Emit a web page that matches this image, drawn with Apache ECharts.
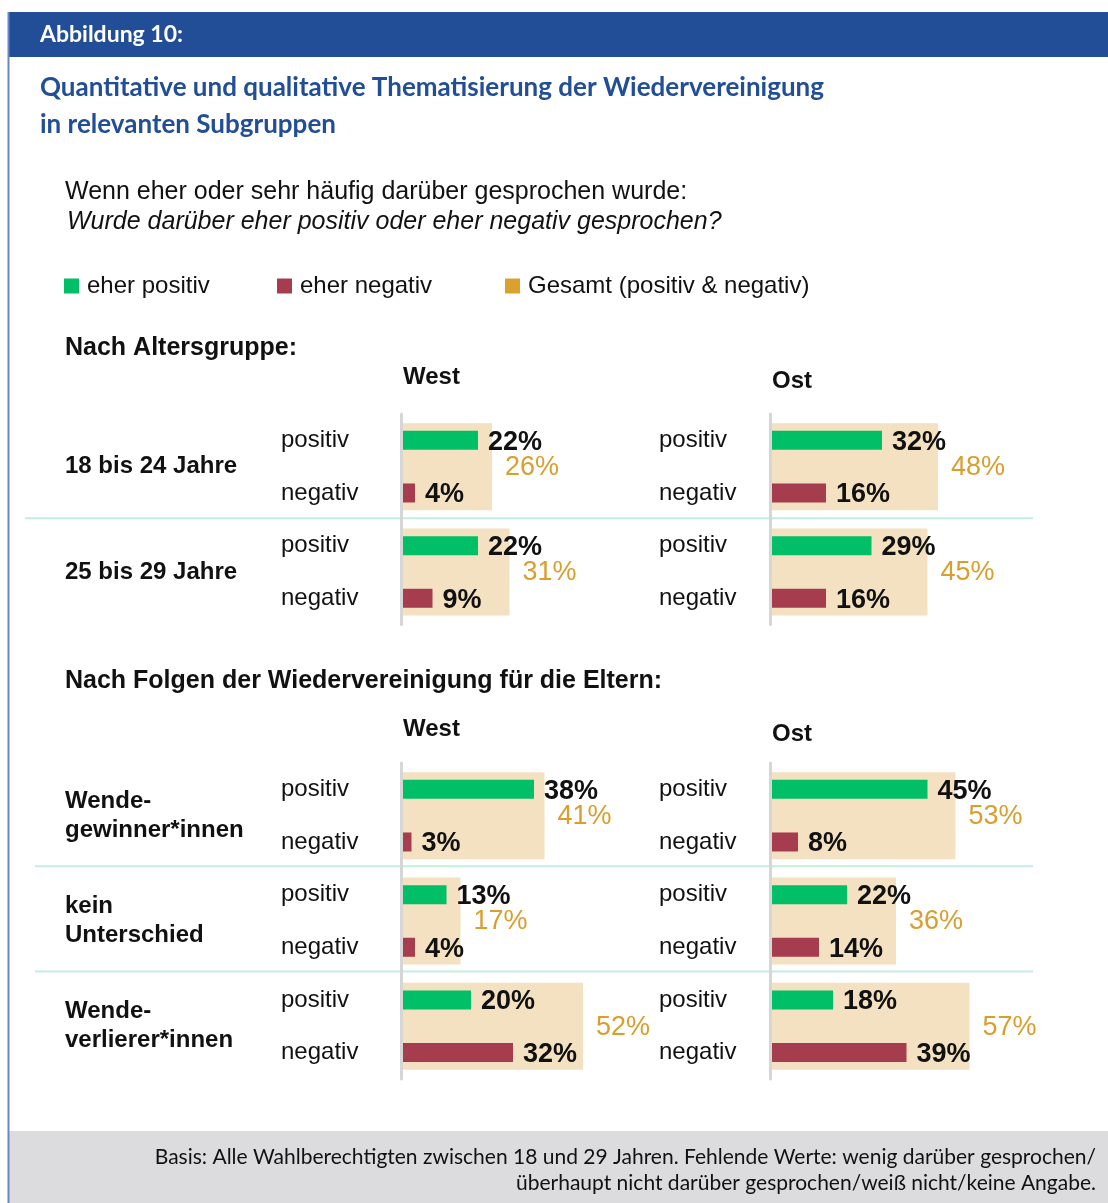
<!DOCTYPE html>
<html>
  <head>
    <meta charset="UTF-8" />
    <title>Abbildung 10</title>
    <script src="https://cdn.jsdelivr.net/npm/echarts@6/dist/echarts.min.js"></script>
    <style>
      body {
        padding: 0;
        margin: 0;
        background: #fff;
      }
      #main {
        width: 1108px;
        height: 1203px;
      }
    </style>
  </head>
  <body>
    <div id="main"></div>
    <script type="text/javascript">
      // Nach Altersgruppe
      var ageGroups = ["18 bis 24 Jahre", "25 bis 29 Jahre"];
      var westAgePos = [22, 22];
      var westAgeNeg = [4, 9];
      var westAgeTotal = [26, 31];
      var ostAgePos = [32, 29];
      var ostAgeNeg = [16, 16];
      var ostAgeTotal = [48, 45];

      // Nach Folgen der Wiedervereinigung fuer die Eltern
      var parentGroups = ["Wende-\ngewinner*innen", "kein\nUnterschied", "Wende-\nverlierer*innen"];
      var westParPos = [38, 13, 20];
      var westParNeg = [3, 4, 32];
      var westParTotal = [41, 17, 52];
      var ostParPos = [45, 22, 18];
      var ostParNeg = [8, 14, 39];
      var ostParTotal = [53, 36, 57];

      var subLabels = ["positiv", "negativ"];
      var legendNames = ["eher positiv", "eher negativ", "Gesamt (positiv & negativ)"];

      var GREEN = "#00bf66";
      var RED = "#a63d4e";
      var BEIGE = "#f3e1c1";
      var ORANGE = "#d99e2e";
      var BLUE = "#214e96";
      var FONT = "'Liberation Sans', Arial, sans-serif";
      var SERIF_LIKE = "Lato, 'Open Sans', sans-serif";

      var ROW_H = 105.3;
      var sec1Top = 414;
      var sec2Top = 763;

      var grids = [
        { left: 401, top: sec1Top, width: 210, height: ROW_H * ageGroups.length },
        { left: 770, top: sec1Top, width: 210, height: ROW_H * ageGroups.length },
        { left: 401, top: sec2Top, width: 210, height: ROW_H * parentGroups.length },
        { left: 770, top: sec2Top, width: 210, height: ROW_H * parentGroups.length }
      ];

      var xAxes = [], yAxes = [], series = [];

      function addPanel(gi, groups, pos, neg, total, rowLabels, subMargin) {
        xAxes.push({ gridIndex: gi, type: "value", min: 0, max: 60, show: false });
        var detailIdx = yAxes.length;
        yAxes.push({
          gridIndex: gi,
          type: "category",
          position: "left",
          inverse: true,
          z: 3,
          data: groups.flatMap(function() { return subLabels; }),
          axisLine: { lineStyle: { color: "#d6d6d6", width: 3 } },
          axisTick: { show: false },
          axisLabel: {
            align: "left",
            margin: subMargin,
            fontSize: 24,
            color: "#111",
            fontFamily: FONT,
            padding: [4, 0, 0, 0]
          }
        });
        var rowIdx = yAxes.length;
        yAxes.push({
          gridIndex: gi,
          type: "category",
          position: "left",
          inverse: true,
          data: groups,
          axisLine: { show: false },
          axisTick: { show: false },
          axisLabel: {
            show: rowLabels,
            align: "left",
            margin: 336,
            fontSize: 24,
            fontWeight: "bold",
            lineHeight: 29,
            color: "#111",
            fontFamily: FONT
          }
        });
        series.push({
          name: legendNames[2],
          type: "bar",
          xAxisIndex: gi,
          yAxisIndex: rowIdx,
          barWidth: 87,
          z: 1,
          itemStyle: { color: BEIGE },
          label: {
            show: true,
            position: "right",
            distance: 13,
            offset: [0, 1],
            formatter: "{c}%",
            fontSize: 27,
            color: ORANGE,
            fontFamily: FONT
          },
          data: total
        });
        var valLabel = {
          show: true,
          position: "right",
          distance: 10,
          offset: [0, 2],
          formatter: "{c}%",
          fontSize: 27,
          fontWeight: "bold",
          color: "#111",
          fontFamily: FONT
        };
        series.push({
          name: legendNames[0],
          type: "bar",
          xAxisIndex: gi,
          yAxisIndex: detailIdx,
          barWidth: 19,
          barGap: "-100%",
          z: 2,
          itemStyle: { color: GREEN },
          label: valLabel,
          data: pos.flatMap(function(v) { return [v, "-"]; })
        });
        series.push({
          name: legendNames[1],
          type: "bar",
          xAxisIndex: gi,
          yAxisIndex: detailIdx,
          barWidth: 19,
          barGap: "-100%",
          z: 2,
          itemStyle: { color: RED },
          label: valLabel,
          data: neg.flatMap(function(v) { return ["-", v]; })
        });
      }

      addPanel(0, ageGroups, westAgePos, westAgeNeg, westAgeTotal, true, 120);
      addPanel(1, ageGroups, ostAgePos, ostAgeNeg, ostAgeTotal, false, 111);
      addPanel(2, parentGroups, westParPos, westParNeg, westParTotal, true, 120);
      addPanel(3, parentGroups, ostParPos, ostParNeg, ostParTotal, false, 111);

      function txt(x, y, s, style) {
        return {
          type: "text",
          x: x,
          y: y,
          silent: true,
          style: Object.assign(
            { text: s, fill: "#111", font: "24px " + FONT, verticalAlign: "middle", align: "left" },
            style || {}
          )
        };
      }

      function sepLine(x1, y) {
        return {
          type: "line",
          silent: true,
          shape: { x1: x1, y1: y, x2: 1033, y2: y },
          style: { stroke: "#c4eedb", lineWidth: 2 }
        };
      }

      var graphics = [
        { type: "rect", silent: true, shape: { x: 8, y: 12, width: 1100, height: 45 }, style: { fill: BLUE } },
        { type: "rect", silent: true, shape: { x: 9, y: 1131, width: 1099, height: 72 }, style: { fill: "#dcdcde" } },
        { type: "line", silent: true, shape: { x1: 8.5, y1: 12, x2: 8.5, y2: 1203 }, style: { stroke: "#6b87c3", lineWidth: 2 } },
        txt(40, 35, "Abbildung 10:", { fill: "#fff", font: "bold 23px " + SERIF_LIKE }),
        txt(40, 88, "Quantitative und qualitative Thematisierung der Wiedervereinigung", {
          fill: BLUE,
          font: "bold 26px " + SERIF_LIKE
        }),
        txt(40, 125, "in relevanten Subgruppen", { fill: BLUE, font: "bold 26px " + SERIF_LIKE }),
        txt(65, 192, "Wenn eher oder sehr häufig darüber gesprochen wurde:", { font: "25px " + FONT }),
        txt(67, 222, "Wurde darüber eher positiv oder eher negativ gesprochen?", { font: "italic 25px " + FONT }),
        txt(65, 348, "Nach Altersgruppe:", { font: "bold 25px " + FONT }),
        txt(403, 377, "West", { font: "bold 24px " + FONT }),
        txt(772, 381, "Ost", { font: "bold 24px " + FONT }),
        txt(65, 681, "Nach Folgen der Wiedervereinigung für die Eltern:", { font: "bold 25px " + FONT }),
        txt(403, 729, "West", { font: "bold 24px " + FONT }),
        txt(772, 734, "Ost", { font: "bold 24px " + FONT }),
        txt(1096, 1157, "Basis: Alle Wahlberechtigten zwischen 18 und 29 Jahren. Fehlende Werte: wenig darüber gesprochen/", {
          align: "right",
          font: "21px " + SERIF_LIKE
        }),
        txt(1096, 1183, "überhaupt nicht darüber gesprochen/weiß nicht/keine Angabe.", {
          align: "right",
          font: "21px " + SERIF_LIKE
        })
      ];
      for (var i = 1; i < ageGroups.length; i++) graphics.push(sepLine(25, sec1Top + ROW_H * i - 1));
      for (var j = 1; j < parentGroups.length; j++) graphics.push(sepLine(35, sec2Top + ROW_H * j - 2));

      var legendLefts = [64, 277, 505];
      var legends = legendNames.map(function(name, k) {
        var item = { name: name };
        if (k === 2) item.itemStyle = { color: "#dba12e" };
        return {
          left: legendLefts[k],
          top: 274,
          padding: 0,
          icon: "rect",
          itemWidth: 15,
          itemHeight: 15,
          selectedMode: false,
          textStyle: { fontSize: 24, color: "#111", fontFamily: FONT, padding: [0, 0, 0, 3] },
          data: [item]
        };
      });

      var chart = echarts.init(document.getElementById("main"));
      chart.setOption({
        animation: false,
        textStyle: { fontFamily: FONT },
        legend: legends,
        grid: grids,
        xAxis: xAxes,
        yAxis: yAxes,
        series: series,
        graphic: graphics
      });
    </script>
  </body>
</html>
